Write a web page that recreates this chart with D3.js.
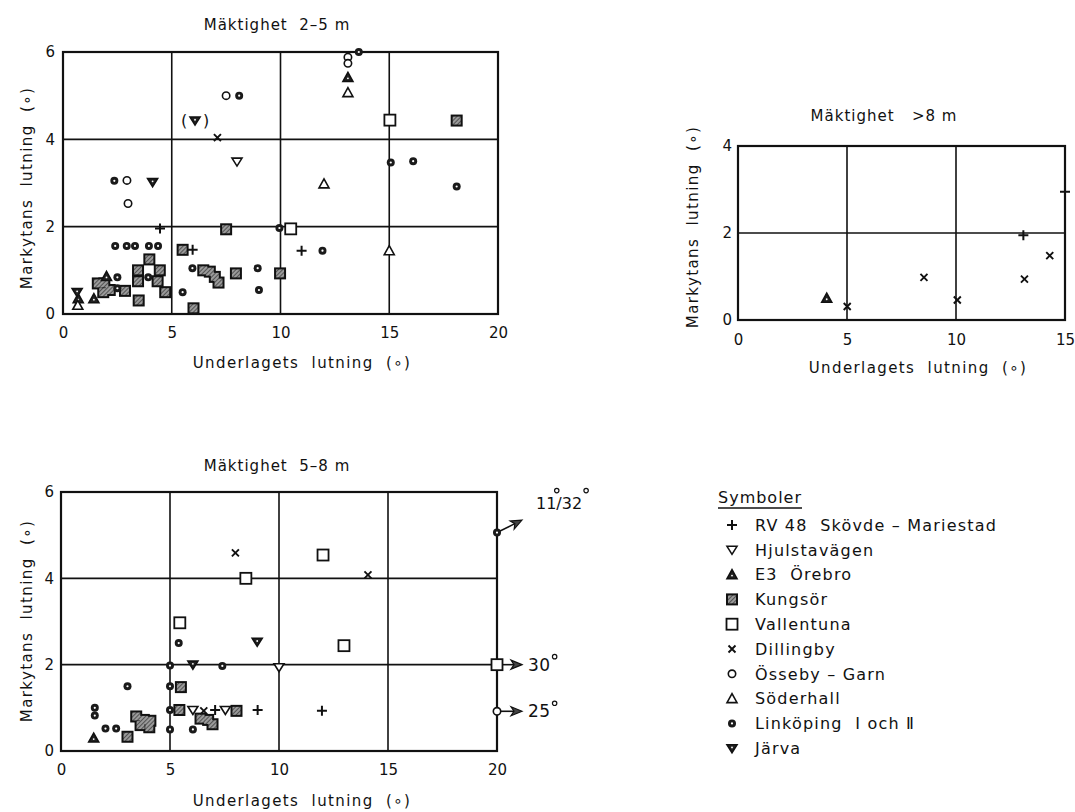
<!DOCTYPE html>
<html>
<head>
<meta charset="utf-8">
<script src="https://cdn.jsdelivr.net/npm/d3@7"></script>
<style>
  body { margin: 0; background: #fff; }
  text { font-family: "DejaVu Sans", sans-serif; fill: #111; }
</style>
</head>
<body>
<svg id="chart" width="1075" height="812"></svg>
<script>
// Tick values
const xTicks20 = [0, 5, 10, 15, 20];
const xTicks15 = [0, 5, 10, 15];
const yTicks6 = [0, 2, 4, 6];
const yTicks4 = [0, 2, 4];

// Sites (legend order)
const siteKeys = ["rv48", "hjulsta", "e3", "kungsor", "vallentuna", "dillingby", "osseby", "soderhall", "linkoping", "jarva"];
const siteNames = ["RV 48  Skövde – Mariestad", "Hjulstavägen", "E3  Örebro", "Kungsör", "Vallentuna",
                   "Dillingby", "Össeby – Garn", "Söderhall", "Linköping  Ⅰ och Ⅱ", "Järva"];

// Mäktighet 2–5 m : [site, underlagets lutning, markytans lutning]
const pts2to5 = [
  ["rv48", 4.46, 1.96], ["rv48", 5.96, 1.47], ["rv48", 10.97, 1.45],
  ["hjulsta", 8.0, 3.49],
  ["e3", 13.1, 5.42], ["e3", 0.7, 0.35], ["e3", 1.42, 0.35], ["e3", 2.0, 0.86],
  ["kungsor", 18.1, 4.43], ["kungsor", 7.5, 1.94], ["kungsor", 5.5, 1.47],
  ["kungsor", 6.45, 1.0], ["kungsor", 6.75, 0.97], ["kungsor", 6.98, 0.85], ["kungsor", 7.15, 0.72],
  ["kungsor", 7.95, 0.93], ["kungsor", 9.98, 0.93], ["kungsor", 6.0, 0.13],
  ["kungsor", 3.97, 1.25], ["kungsor", 3.45, 1.0], ["kungsor", 3.45, 0.75],
  ["kungsor", 4.45, 1.0], ["kungsor", 4.35, 0.75], ["kungsor", 4.7, 0.5],
  ["kungsor", 3.48, 0.31], ["kungsor", 2.85, 0.53],
  ["kungsor", 1.6, 0.7], ["kungsor", 1.9, 0.7], ["kungsor", 2.15, 0.55], ["kungsor", 1.85, 0.5],
  ["vallentuna", 15.03, 4.44], ["vallentuna", 10.47, 1.95],
  ["dillingby", 7.1, 4.04],
  ["osseby", 7.5, 5.0], ["osseby", 2.94, 3.06], ["osseby", 2.99, 2.53], ["osseby", 13.1, 5.88], ["osseby", 13.1, 5.74],
  ["soderhall", 13.1, 5.07], ["soderhall", 12.0, 2.98], ["soderhall", 15.0, 1.45], ["soderhall", 0.68, 0.2],
  ["linkoping", 8.1, 5.0], ["linkoping", 13.6, 6.0], ["linkoping", 15.07, 3.47], ["linkoping", 16.1, 3.5],
  ["linkoping", 18.1, 2.92], ["linkoping", 2.36, 3.05], ["linkoping", 9.95, 1.97], ["linkoping", 11.93, 1.45],
  ["linkoping", 2.4, 1.56], ["linkoping", 2.93, 1.56], ["linkoping", 3.31, 1.56], ["linkoping", 3.95, 1.56],
  ["linkoping", 4.37, 1.56], ["linkoping", 5.95, 1.05], ["linkoping", 8.95, 1.05], ["linkoping", 9.01, 0.55],
  ["linkoping", 5.5, 0.5], ["linkoping", 2.5, 0.84], ["linkoping", 2.5, 0.59], ["linkoping", 3.92, 0.84],
  ["jarva", 4.12, 3.02], ["jarva", 0.65, 0.5]
];
// uncertain value, drawn in parentheses
const bracketed2to5 = [["jarva", 6.07, 4.43]];

// Mäktighet >8 m
const ptsOver8 = [
  ["e3", 4.07, 0.5],
  ["dillingby", 5.01, 0.31], ["dillingby", 8.53, 0.98], ["dillingby", 10.06, 0.46],
  ["dillingby", 13.14, 0.94], ["dillingby", 14.3, 1.48],
  ["rv48", 13.09, 1.95], ["rv48", 15.0, 2.95]
];

// Mäktighet 5–8 m
const pts5to8 = [
  ["dillingby", 8.0, 4.59], ["dillingby", 14.08, 4.08], ["dillingby", 6.55, 0.93],
  ["vallentuna", 12.02, 4.54], ["vallentuna", 8.48, 4.0], ["vallentuna", 5.45, 2.97], ["vallentuna", 12.98, 2.44],
  ["linkoping", 5.4, 2.5], ["linkoping", 5.0, 1.98], ["linkoping", 7.4, 1.97], ["linkoping", 3.05, 1.5],
  ["linkoping", 5.0, 1.5], ["linkoping", 5.0, 0.95], ["linkoping", 5.0, 0.5], ["linkoping", 6.05, 0.5],
  ["linkoping", 1.55, 1.0], ["linkoping", 1.55, 0.82], ["linkoping", 2.04, 0.52], ["linkoping", 2.53, 0.52],
  ["jarva", 9.0, 2.53], ["jarva", 6.05, 2.0],
  ["hjulsta", 10.0, 1.94], ["hjulsta", 6.05, 0.95], ["hjulsta", 7.54, 0.95],
  ["kungsor", 5.5, 1.48], ["kungsor", 5.43, 0.95], ["kungsor", 8.05, 0.93],
  ["kungsor", 6.4, 0.75], ["kungsor", 6.75, 0.72], ["kungsor", 6.95, 0.62],
  ["kungsor", 3.05, 0.33], ["kungsor", 3.45, 0.8], ["kungsor", 3.8, 0.72],
  ["kungsor", 4.1, 0.7], ["kungsor", 3.65, 0.6], ["kungsor", 4.05, 0.55],
  ["rv48", 7.07, 0.95], ["rv48", 9.02, 0.95], ["rv48", 11.97, 0.93],
  ["e3", 1.5, 0.3]
];
// values beyond the x scale, drawn on the right edge with an arrow
const offScale5to8 = [
  ["linkoping", 20, 5.06, "11/32", -0.5],
  ["vallentuna", 20, 2.0, "30", 0],
  ["osseby", 20, 0.92, "25", 0]
];

const svg = d3.select("#chart");
const FONT = "'DejaVu Sans', sans-serif";

// hatched fill used for Kungsör
const defs = svg.append("defs");
const pat = defs.append("pattern").attr("id", "hatch").attr("patternUnits", "userSpaceOnUse")
  .attr("width", 3).attr("height", 3).attr("patternTransform", "rotate(45)");
pat.append("rect").attr("width", 3).attr("height", 3).attr("fill", "#9a9a9a");
pat.append("line").attr("x1", 0).attr("y1", 0).attr("x2", 0).attr("y2", 3).attr("stroke", "#333").attr("stroke-width", 1.4);

function drawSymbol(g, key, cx, cy) {
  const s = g.append("g").attr("transform", `translate(${cx},${cy})`);
  switch (key) {
    case "rv48":
      s.append("path").attr("d", "M-5,0H5M0,-5V5").attr("stroke", "#111").attr("stroke-width", 2);
      break;
    case "hjulsta":
      s.append("path").attr("d", "M-5,-3.5H5L0,4.5Z").attr("fill", "#fff").attr("stroke", "#111").attr("stroke-width", 1.6);
      break;
    case "jarva":
      s.append("path").attr("d", "M-5,-3.5H5L0,4.5Z").attr("fill", "#222").attr("stroke", "#111").attr("stroke-width", 1.6);
      s.append("circle").attr("cx", 0).attr("cy", -0.8).attr("r", 0.9).attr("fill", "#fff");
      break;
    case "e3":
      s.append("path").attr("d", "M0,-5L5,4H-5Z").attr("fill", "#222").attr("stroke", "#111").attr("stroke-width", 1.6);
      s.append("circle").attr("cx", 0).attr("cy", 1).attr("r", 0.9).attr("fill", "#fff");
      break;
    case "soderhall":
      s.append("path").attr("d", "M0,-5L5,4H-5Z").attr("fill", "#fff").attr("stroke", "#111").attr("stroke-width", 1.6);
      break;
    case "vallentuna":
      s.append("rect").attr("x", -5.5).attr("y", -5.5).attr("width", 11).attr("height", 11)
        .attr("fill", "#fff").attr("stroke", "#111").attr("stroke-width", 1.8);
      break;
    case "dillingby":
      s.append("path").attr("d", "M-3.5,-3.5L3.5,3.5M3.5,-3.5L-3.5,3.5").attr("stroke", "#111").attr("stroke-width", 1.9);
      break;
    case "osseby":
      s.append("circle").attr("r", 3.7).attr("fill", "#fff").attr("stroke", "#111").attr("stroke-width", 1.6);
      break;
    case "linkoping":
      s.append("circle").attr("r", 4).attr("fill", "#1a1a1a");
      s.append("circle").attr("r", 1.1).attr("fill", "#fff");
      break;
    case "kungsor":
      s.append("rect").attr("x", -6).attr("y", -6).attr("width", 12).attr("height", 12).attr("fill", "#111");
      s.append("rect").attr("x", -4).attr("y", -4).attr("width", 8).attr("height", 8).attr("fill", "url(#hatch)");
      break;
  }
}

// Kungsör squares are drawn as one merged block: outlines first, fills on top
function drawKungsor(g, pts, x, y) {
  const k = pts.filter(d => d[0] === "kungsor");
  g.selectAll(null).data(k).join("rect")
    .attr("x", d => x(d[1]) - 6).attr("y", d => y(d[2]) - 6).attr("width", 12).attr("height", 12).attr("fill", "#111");
  g.selectAll(null).data(k).join("rect")
    .attr("x", d => x(d[1]) - 4).attr("y", d => y(d[2]) - 4).attr("width", 8).attr("height", 8).attr("fill", "url(#hatch)");
}

const panels = [
  { title: "Mäktighet  2–5 m", pts: pts2to5, xDom: [0, 20], yDom: [0, 6], xT: xTicks20, yT: yTicks6,
    left: 63, right: 498, top: 52, bottom: 314, titleX: 277, titleY: 30,
    xLabX: 302, xLabY: 368, yLabX: 27, yLabY: 188, xPad: 13, yPad: 8 },
  { title: "Mäktighet   >8 m", pts: ptsOver8, xDom: [0, 15], yDom: [0, 4], xT: xTicks15, yT: yTicks4,
    left: 738, right: 1065, top: 146, bottom: 320, titleX: 884, titleY: 121,
    xLabX: 918, xLabY: 373, yLabX: 693, yLabY: 227, xPad: 14, yPad: 6 },
  { title: "Mäktighet  5–8 m", pts: pts5to8, xDom: [0, 20], yDom: [0, 6], xT: xTicks20, yT: yTicks6,
    left: 61, right: 497, top: 492, bottom: 751, titleX: 277, titleY: 471,
    xLabX: 302, xLabY: 806, yLabX: 27, yLabY: 621, xPad: 13, yPad: 7 }
];

panels.forEach((p, i) => {
  const x = d3.scaleLinear().domain(p.xDom).range([p.left, p.right]);
  const y = d3.scaleLinear().domain(p.yDom).range([p.bottom, p.top]);
  const g = svg.append("g");

  // grid
  g.selectAll(null).data(p.xT.slice(1, -1)).join("line")
    .attr("x1", d => x(d)).attr("x2", d => x(d)).attr("y1", p.top).attr("y2", p.bottom)
    .attr("stroke", "#111").attr("stroke-width", 1.6);
  g.selectAll(null).data(p.yT.slice(1, -1)).join("line")
    .attr("y1", d => y(d)).attr("y2", d => y(d)).attr("x1", p.left).attr("x2", p.right)
    .attr("stroke", "#111").attr("stroke-width", 1.6);
  g.append("rect").attr("x", p.left).attr("y", p.top).attr("width", p.right - p.left).attr("height", p.bottom - p.top)
    .attr("fill", "none").attr("stroke", "#111").attr("stroke-width", 2.2);

  // axes (labels only)
  const ax = g.append("g").attr("transform", `translate(0,${p.bottom})`)
    .call(d3.axisBottom(x).tickValues(p.xT).tickFormat(d3.format("d")).tickSize(0).tickPadding(p.xPad));
  const ay = g.append("g").attr("transform", `translate(${p.left},0)`)
    .call(d3.axisLeft(y).tickValues(p.yT).tickFormat(d3.format("d")).tickSize(0).tickPadding(p.yPad));
  [ax, ay].forEach(a => {
    a.select(".domain").remove();
    a.attr("font-family", FONT).attr("font-size", 15);
    a.selectAll("text").attr("fill", "#111");
  });

  g.append("text").attr("x", p.titleX).attr("y", p.titleY).attr("text-anchor", "middle")
    .attr("font-size", 15).attr("letter-spacing", 1).style("white-space", "pre").text(p.title);
  g.append("text").attr("x", p.xLabX).attr("y", p.xLabY).attr("text-anchor", "middle")
    .attr("font-size", 15).attr("letter-spacing", 1.4).style("white-space", "pre").text("Underlagets  lutning  (∘)");
  g.append("text").attr("transform", `translate(${p.yLabX},${p.yLabY}) rotate(-90)`).attr("text-anchor", "middle")
    .attr("dy", "0.35em").attr("font-size", 15).attr("letter-spacing", 1.4).style("white-space", "pre")
    .text("Markytans  lutning  (∘)");

  // marks
  drawKungsor(g, p.pts, x, y);
  p.pts.filter(d => d[0] !== "kungsor").forEach(d => drawSymbol(g, d[0], x(d[1]), y(d[2])));

  if (i === 0) {
    bracketed2to5.forEach(d => {
      drawSymbol(g, d[0], x(d[1]), y(d[2]));
      g.append("text").attr("x", x(d[1]) - 11).attr("y", y(d[2])).attr("dy", "0.35em")
        .attr("text-anchor", "middle").attr("font-size", 16).text("(");
      g.append("text").attr("x", x(d[1]) + 11).attr("y", y(d[2])).attr("dy", "0.35em")
        .attr("text-anchor", "middle").attr("font-size", 16).text(")");
    });
  }

  if (i === 2) {
    offScale5to8.forEach(d => {
      const px = x(d[1]), py = y(d[2]);
      const slope = d[4];
      const ex = px + 25, ey = py + slope * 25;
      const ang = Math.atan2(ey - py, ex - px);
      g.append("line").attr("x1", px).attr("y1", py).attr("x2", ex - 8 * Math.cos(ang)).attr("y2", ey - 8 * Math.sin(ang))
        .attr("stroke", "#111").attr("stroke-width", 1.6);
      g.append("path")
        .attr("d", "M0,0L-11,-4.5L-8,0L-11,4.5Z")
        .attr("transform", `translate(${ex},${ey}) rotate(${ang * 180 / Math.PI})`)
        .attr("fill", "#444").attr("stroke", "#111").attr("stroke-width", 1.2);
      drawSymbol(g, d[0], px, py);
      if (slope === 0) {
        const t = g.append("text").attr("x", ex + 6).attr("y", py).attr("dy", "0.36em")
          .attr("font-size", 17).attr("letter-spacing", 0.5).text(d[3]);
        const w = t.node().getComputedTextLength();
        g.append("circle").attr("cx", ex + 10 + w).attr("cy", py - 8).attr("r", 2.2)
          .attr("fill", "none").attr("stroke", "#111").attr("stroke-width", 1.2);
      } else {
        const t = g.append("text").attr("x", ex + 14).attr("y", py - 24).attr("font-size", 16).text(d[3]);
        const w = t.node().getComputedTextLength();
        g.append("circle").attr("cx", ex + 14 + w * 0.45).attr("cy", py - 42).attr("r", 2.2)
          .attr("fill", "none").attr("stroke", "#111").attr("stroke-width", 1.2);
        g.append("circle").attr("cx", ex + 18 + w).attr("cy", py - 42).attr("r", 2.2)
          .attr("fill", "none").attr("stroke", "#111").attr("stroke-width", 1.2);
      }
    });
  }
});

// legend
const lg = svg.append("g");
const legX = 732, legTextX = 755, legY0 = 525, legStep = 24.8;
const head = lg.append("text").attr("x", 718).attr("y", 503).attr("font-size", 16).attr("letter-spacing", 1).text("Symboler");
const hw = head.node().getComputedTextLength();
lg.append("line").attr("x1", 718).attr("x2", 718 + hw).attr("y1", 508).attr("y2", 508).attr("stroke", "#111").attr("stroke-width", 1.3);
siteKeys.forEach((k, i) => {
  const cy = legY0 + i * legStep;
  drawSymbol(lg, k, legX, cy);
  lg.append("text").attr("x", legTextX).attr("y", cy).attr("dy", "0.36em")
    .attr("font-size", 16).attr("letter-spacing", 1.2).style("white-space", "pre").text(siteNames[i]);
});
</script>
</body>
</html>
